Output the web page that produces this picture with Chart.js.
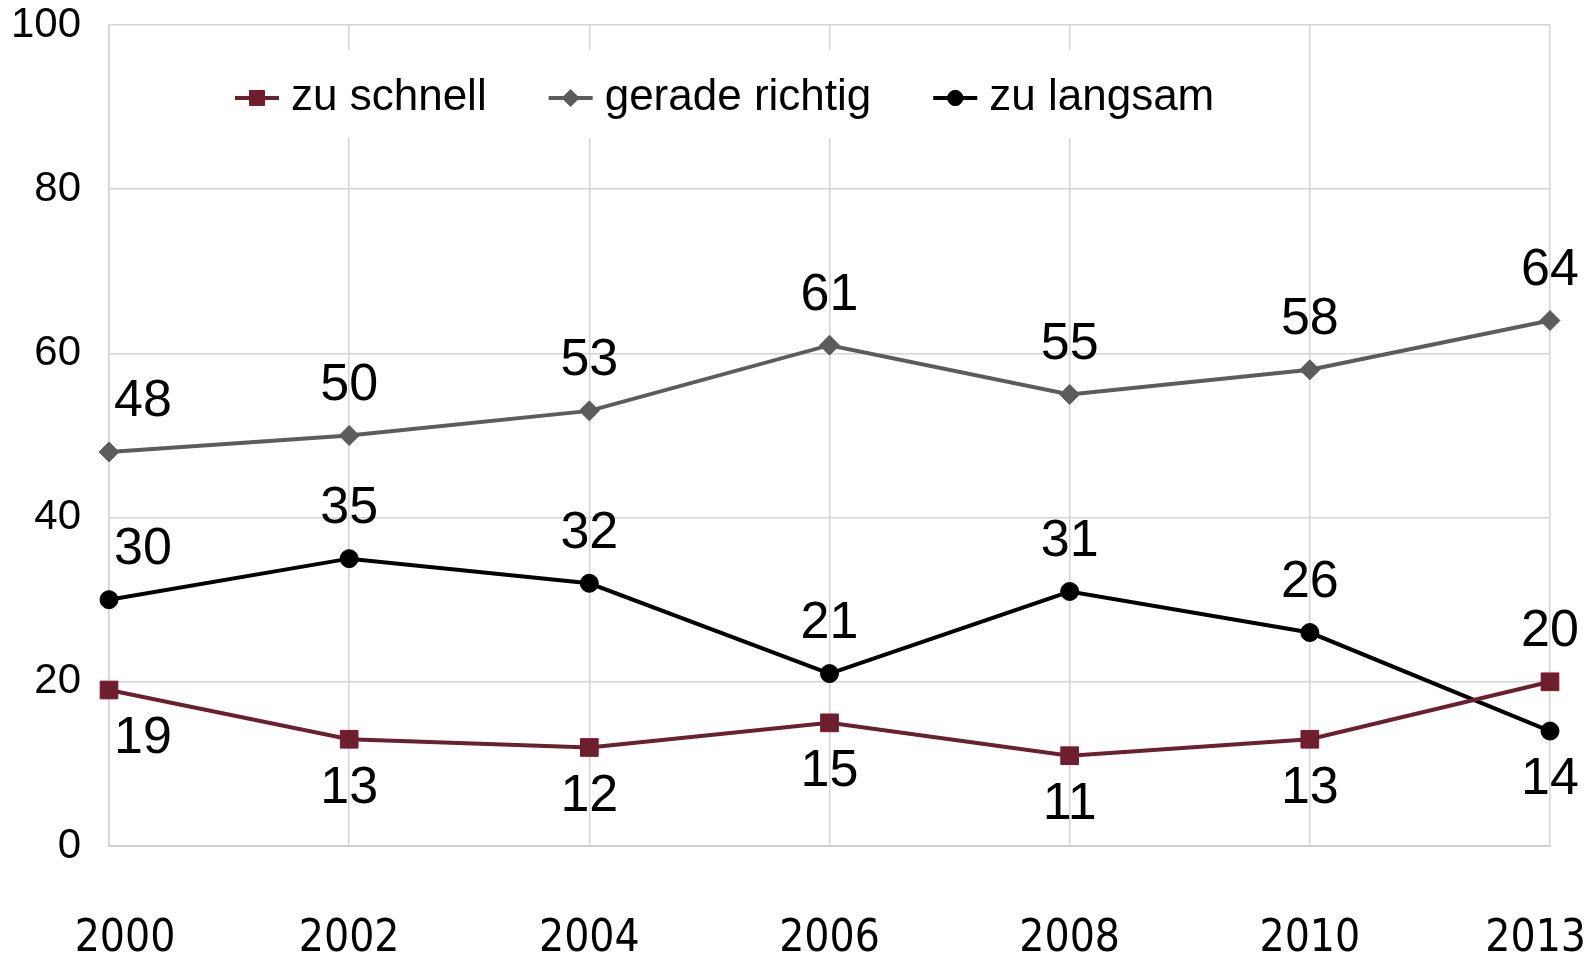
<!DOCTYPE html>
<html>
<head>
<meta charset="utf-8">
<script src="https://cdn.jsdelivr.net/npm/chart.js@4"></script>
<style>
  html, body { margin: 0; padding: 0; background: #fff; }
  canvas { display: block; }
</style>
</head>
<body>
<canvas id="chart" width="1587" height="958"></canvas>
<script>
// Jahre (Kategorien)
const years = ["2000", "2002", "2004", "2006", "2008", "2010", "2013"];

// Werte in Prozent
const zuSchnell = [19, 13, 12, 15, 11, 13, 20];
const geradeRichtig = [48, 50, 53, 61, 55, 58, 64];
const zuLangsam = [30, 35, 32, 21, 31, 26, 14];

// Lage der Wertbeschriftung je Punkt
const zuSchnellPos = ["below", "below", "below", "below", "below", "below", "above"];
const geradeRichtigPos = ["above", "above", "above", "above", "above", "above", "above"];
const zuLangsamPos = ["above", "above", "above", "above", "above", "above", "below"];

const yTicks = [0, 20, 40, 60, 80, 100];

const FONT = '"Liberation Sans", Arial, sans-serif';
const XFONT = '"Liberation Sans Narrow", "DejaVu Sans Condensed", sans-serif';

function drawMarker(ctx, style, x, y, r, fill, stroke) {
    ctx.save();
    ctx.fillStyle = fill;
    ctx.strokeStyle = stroke;
    ctx.lineWidth = 1;
    ctx.beginPath();
    if (style === "rect") {
        const s = r * Math.SQRT1_2;
        ctx.rect(x - s, y - s, 2 * s, 2 * s);
    } else if (style === "rectRot") {
        ctx.moveTo(x, y - r);
        ctx.lineTo(x + r, y);
        ctx.lineTo(x, y + r);
        ctx.lineTo(x - r, y);
        ctx.closePath();
    } else {
        ctx.arc(x, y, r, 0, Math.PI * 2);
    }
    ctx.fill();
    ctx.stroke();
    ctx.restore();
}

// eigene Legende mit weißem Hintergrund über dem Gitter
const boxLegend = {
    id: "boxLegend",
    beforeDatasetsDraw(chart) {
        const ctx = chart.ctx;
        ctx.save();
        ctx.fillStyle = "#ffffff";
        ctx.fillRect(218, 50, 1005, 88);
        ctx.font = "44px " + FONT;
        ctx.textBaseline = "middle";
        ctx.textAlign = "left";
        let x = 235;
        const y = 98;
        chart.data.datasets.forEach((ds) => {
            ctx.strokeStyle = ds.borderColor;
            ctx.lineWidth = 4;
            ctx.beginPath();
            ctx.moveTo(x, y);
            ctx.lineTo(x + 44, y);
            ctx.stroke();
            drawMarker(ctx, ds.pointStyle, x + 22, y, ds.pointRadius * 0.85,
                ds.pointBackgroundColor, ds.pointBorderColor);
            ctx.fillStyle = "#000";
            ctx.fillText(ds.label, x + 56, y);
            x += 56 + ctx.measureText(ds.label).width + 62;
        });
        ctx.restore();
    }
};

// Wertbeschriftungen
const valueLabels = {
    id: "valueLabels",
    afterDatasetsDraw(chart) {
        const ctx = chart.ctx;
        ctx.save();
        ctx.font = "52px " + FONT;
        ctx.fillStyle = "#000";
        ctx.textAlign = "center";
        ctx.textBaseline = "middle";
        chart.data.datasets.forEach((ds, di) => {
            const meta = chart.getDatasetMeta(di);
            meta.data.forEach((pt, i) => {
                const dy = ds.labelPos[i] === "above" ? -50 : 49;
                const dx = i === 0 ? 34 : 0;
                ctx.fillText(String(ds.data[i]), pt.x + dx, pt.y + dy);
            });
        });
        ctx.restore();
    }
};

// x-Beschriftung: an der Achse zentriert, aber innerhalb der Fläche gehalten
const xLabels = {
    id: "xLabels",
    afterDraw(chart) {
        const ctx = chart.ctx;
        const xs = chart.scales.x;
        ctx.save();
        ctx.font = "44px " + XFONT;
        ctx.fillStyle = "#000";
        ctx.textAlign = "center";
        ctx.textBaseline = "middle";
        chart.data.labels.forEach((lab, i) => {
            const w = ctx.measureText(lab).width;
            let cx = xs.getPixelForTick(i);
            if (i === 0) cx += 16;
            cx = Math.min(cx, chart.width - w / 2 - 1);
            ctx.fillText(lab, cx, 940);
        });
        ctx.restore();
    }
};

new Chart(document.getElementById("chart").getContext("2d"), {
    type: "line",
    data: {
        labels: years,
        datasets: [
            {
                label: "zu schnell",
                data: zuSchnell,
                labelPos: zuSchnellPos,
                borderColor: "#6b1f2f",
                borderWidth: 4,
                pointStyle: "rect",
                pointRadius: 12.5,
                pointBackgroundColor: "#6b1f2f",
                pointBorderColor: "#86142b",
                pointBorderWidth: 1,
                tension: 0,
                clip: false,
            },
            {
                label: "gerade richtig",
                data: geradeRichtig,
                labelPos: geradeRichtigPos,
                borderColor: "#5c5c5c",
                borderWidth: 4,
                pointStyle: "rectRot",
                pointRadius: 10,
                pointBackgroundColor: "#5c5c5c",
                pointBorderColor: "#5c5c5c",
                pointBorderWidth: 1,
                tension: 0,
                clip: false,
            },
            {
                label: "zu langsam",
                data: zuLangsam,
                labelPos: zuLangsamPos,
                borderColor: "#000000",
                borderWidth: 4,
                pointStyle: "circle",
                pointRadius: 9,
                pointBackgroundColor: "#000000",
                pointBorderColor: "#000000",
                pointBorderWidth: 1,
                tension: 0,
                clip: false,
            },
        ],
    },
    options: {
        responsive: false,
        animation: false,
        layout: { padding: { top: 25, right: 37, left: 0, bottom: 0 } },
        plugins: {
            legend: { display: false },
            tooltip: { enabled: false },
        },
        scales: {
            x: {
                offset: false,
                grid: { color: "#d4d4d4", lineWidth: 1.5, drawTicks: false },
                border: { color: "#cfcfcf", width: 2 },
                ticks: {
                    display: false,
                    autoSkip: false,
                },
                afterFit(scale) {
                    scale.height = 112;
                    scale.paddingLeft = 0;
                    scale.paddingRight = 0;
                },
            },
            y: {
                min: 0,
                max: 100,
                afterBuildTicks(scale) {
                    scale.ticks = yTicks.map((v) => ({ value: v }));
                },
                grid: { color: "#d4d4d4", lineWidth: 1.5, drawTicks: false },
                border: { color: "#d4d4d4", width: 1.5 },
                ticks: {
                    color: "#000",
                    font: { family: FONT, size: 42 },
                    padding: 28,
                },
                afterFit(scale) {
                    scale.width = 109;
                    scale.paddingTop = 0;
                    scale.paddingBottom = 0;
                },
            },
        },
    },
    plugins: [boxLegend, valueLabels, xLabels],
});
</script>
</body>
</html>
